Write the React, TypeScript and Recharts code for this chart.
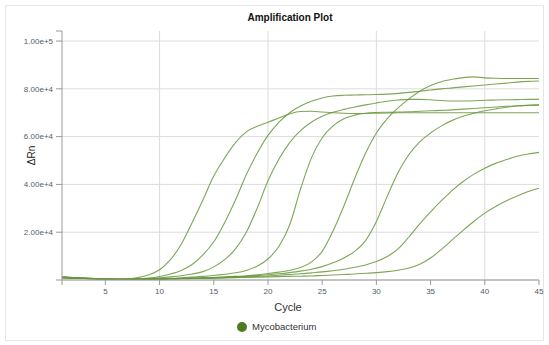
import React from 'react'
import { LineChart, Line, XAxis, YAxis, CartesianGrid } from 'recharts'

// ΔRn readings, in thousands, cycles 1..45
const cycles = Array.from({ length: 45 }, (_, i) => i + 1)

const well1 = [1.3, 1.0, 0.8, 0.6, 0.4, 0.3, 0.4, 1.0, 2.2, 4.3, 8.5, 15, 24, 33.5, 43.5, 51, 57.5, 62, 64.3, 66, 67.8, 69.5, 70.5, 70.6, 70.3, 70, 69.8, 69.7, 69.7, 69.8, 69.9, 70, 70, 70, 70, 70, 70, 70, 70, 70, 70, 70, 70, 70, 70]
const well2 = [1.2, 1.0, 0.8, 0.6, 0.4, 0.3, 0.3, 0.5, 0.8, 1.5, 2.5, 4, 6.5, 10.5, 16, 24, 33.5, 44, 53, 60.5, 66, 70, 72.8, 74.8, 76.2, 77, 77.3, 77.4, 77.5, 77.6, 77.8, 78.1, 78.5, 79, 79.5, 80, 80.4, 80.8, 81.2, 81.6, 82, 82.4, 82.8, 83.1, 83.3]
const well3 = [1.2, 1.0, 0.8, 0.6, 0.4, 0.3, 0.3, 0.4, 0.6, 0.9, 1.3, 1.8, 2.5, 3.5, 5.5, 8.5, 13, 20, 30, 41.5, 50.5, 57.5, 62.5, 66, 68.5, 70.2, 71.4, 72.4, 73.3, 74.1, 74.8, 75.3, 75.6, 75.6, 75.4, 75.1, 74.9, 74.9, 75, 75.2, 75.3, 75.4, 75.5, 75.6, 75.6]
const well4 = [1.1, 0.9, 0.7, 0.5, 0.4, 0.3, 0.3, 0.3, 0.4, 0.5, 0.7, 0.9, 1.2, 1.5, 1.9, 2.4, 3.0, 4.0, 5.8, 8.8, 14, 23, 38, 51, 59.5, 64.5, 67.5, 69, 69.8, 70.1, 70.2, 70.3, 70.4, 70.6, 70.8, 71, 71.2, 71.5, 71.8, 72.1, 72.4, 72.7, 72.9, 73.1, 73.2]
const well5 = [1.1, 0.9, 0.7, 0.5, 0.4, 0.3, 0.3, 0.3, 0.4, 0.5, 0.6, 0.7, 0.8, 0.9, 1.0, 1.2, 1.5, 1.8, 2.2, 2.7, 3.3, 4.0, 5.2, 7.5, 12, 20.5, 31, 42.5, 53, 61.5, 67.5, 72, 75.8, 79, 81.4, 83, 84, 84.7, 85, 84.6, 84.4, 84.3, 84.3, 84.3, 84.3]
const well6 = [1.0, 0.8, 0.6, 0.5, 0.4, 0.3, 0.3, 0.3, 0.3, 0.4, 0.5, 0.6, 0.7, 0.8, 1.0, 1.2, 1.4, 1.6, 1.9, 2.2, 2.6, 3.1, 3.7, 4.5, 5.6, 7.2, 9.2, 12, 16.5, 24.5, 35, 45, 52.5, 57.8, 61.5, 64.5, 66.8, 68.5, 69.8, 70.8, 71.6, 72.3, 72.8, 73.1, 73.3]
const well7 = [1.0, 0.8, 0.6, 0.5, 0.4, 0.3, 0.3, 0.3, 0.3, 0.4, 0.5, 0.6, 0.7, 0.8, 0.9, 1.0, 1.1, 1.3, 1.5, 1.7, 2.0, 2.3, 2.6, 3.0, 3.4, 3.9, 4.5, 5.3, 6.3, 7.7, 9.8, 13, 18, 23.5, 28.5, 33.2, 37.5, 41.2, 44.3, 46.8, 48.8, 50.4, 51.8, 52.7, 53.4]
const well8 = [0.9, 0.7, 0.6, 0.5, 0.4, 0.3, 0.3, 0.3, 0.3, 0.3, 0.4, 0.5, 0.6, 0.7, 0.8, 0.9, 1.0, 1.1, 1.2, 1.3, 1.4, 1.5, 1.6, 1.7, 1.9, 2.1, 2.3, 2.5, 2.8, 3.1, 3.5, 4.1, 5.0, 6.6, 9.2, 12.8, 16.8, 20.8, 24.6, 28, 30.8, 33.2, 35.2, 37, 38.4]

const wells = [well1, well2, well3, well4, well5, well6, well7, well8]
const X_MIN = 1
const X_MAX = 45
const Y_MAX = 104200
const xTicks = [X_MIN, 5, 10, 15, 20, 25, 30, 35, 40, 45]
const xGrid = [10, 20, 30, 40]
const yTicks = [0, 20000, 40000, 60000, 80000, 100000]

const data = cycles.map((c, i) => {
  const row: Record<string, number> = { cycle: c }
  wells.forEach((w, k) => {
    row['w' + k] = w[i] * 1000
  })
  return row
})

const FONT = '"Liberation Sans", Arial, Helvetica, sans-serif'
const LINE = '#66963a'
const tickStyle = { fontSize: 8, fill: '#525d6a', fontFamily: FONT }

const fmtX = (v: number) => (v === X_MIN ? '' : String(v))
const fmtY = (v: number) => (v === 0 || v === Y_MAX ? '' : v.toExponential(2))

export default function App() {
  return (
    <div style={{ position: 'absolute', left: 0, top: 0, width: 549, height: 345, background: '#fff', fontFamily: FONT }}>
      <div style={{ position: 'absolute', left: 5, top: 5, width: 537, height: 334, border: '1px solid #e6e6e6' }} />
      <div style={{ position: 'absolute', left: 190, width: 200, top: 12, textAlign: 'center', fontSize: 10, fontWeight: 'bold', color: '#111' }}>
        Amplification Plot
      </div>
      <div style={{ position: 'absolute', left: 11, top: 150, width: 40, textAlign: 'center', fontSize: 10, color: '#222', transform: 'rotate(-90deg)' }}>
        ΔRn
      </div>
      <div style={{ position: 'absolute', left: 238, width: 100, top: 301, textAlign: 'center', fontSize: 11, color: '#333' }}>
        Cycle
      </div>
      <div style={{ position: 'absolute', left: 237, top: 321, display: 'flex', alignItems: 'center', fontSize: 9.5, color: '#333' }}>
        <span style={{ width: 10, height: 10, borderRadius: 5, background: '#4b7d1e', marginRight: 5, display: 'inline-block' }} />
        Mycobacterium
      </div>
      <LineChart width={549} height={345} data={data} margin={{ top: 31, right: 10, left: 12, bottom: 35 }} style={{ position: 'absolute', left: 0, top: 0 }}>
        <CartesianGrid stroke="#dcdcdc" horizontalValues={yTicks} verticalValues={xGrid} />
        <XAxis
          dataKey="cycle"
          type="number"
          domain={[X_MIN, X_MAX]}
          ticks={xTicks}
          tickFormatter={fmtX}
          tick={tickStyle}
          tickSize={5}
          tickMargin={3}
          height={30}
          stroke="#999"
        />
        <YAxis
          type="number"
          domain={[0, Y_MAX]}
          ticks={[...yTicks, Y_MAX]}
          tickFormatter={fmtY}
          tick={tickStyle}
          tickSize={6}
          tickMargin={3}
          width={50}
          stroke="#999"
          allowDataOverflow
        />
        {wells.map((_, k) => (
          <Line
            key={k}
            dataKey={'w' + k}
            type="monotone"
            stroke={LINE}
            strokeOpacity={0.85}
            strokeWidth={1.1}
            dot={false}
            isAnimationActive={false}
          />
        ))}
      </LineChart>
    </div>
  )
}
